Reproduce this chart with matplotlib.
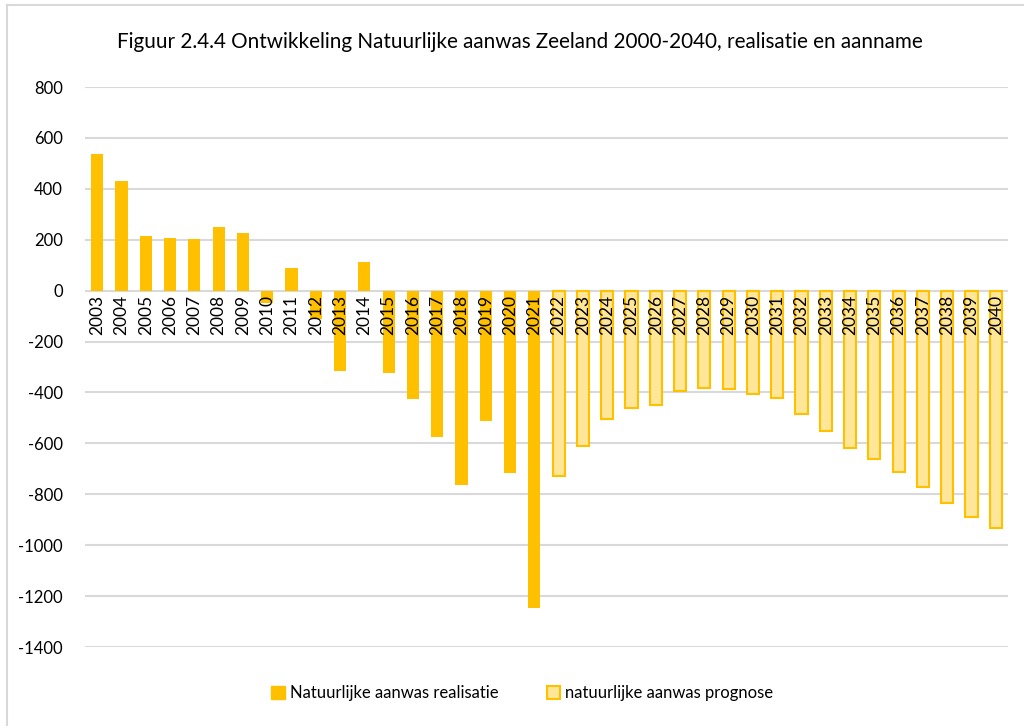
import numpy as np
import matplotlib.pyplot as plt
from matplotlib.lines import Line2D
from matplotlib.patches import Patch

# Jaren en waarden
jaren_real = list(range(2003, 2022))
realisatie = [537, 431, 216, 208, 204, 251, 227, -50, 90, -110, -314, 114,
              -324, -425, -575, -762, -512, -715, -1248]
jaren_prog = list(range(2022, 2041))
prognose = [-730, -610, -503, -460, -448, -395, -384, -385, -408, -420, -484,
            -553, -617, -663, -714, -770, -835, -888, -931]

plt.rcParams['font.family'] = ['Lato', 'DejaVu Sans']
plt.rcParams['axes.unicode_minus'] = False

fig = plt.figure(figsize=(10.24, 7.26), dpi=100)
ax = fig.add_axes([85 / 1024, 1 - 647 / 726, 923 / 1024, 560 / 726])

alle_jaren = jaren_real + jaren_prog
pos = {j: i for i, j in enumerate(alle_jaren)}

ax.bar([pos[j] for j in jaren_real], realisatie, width=0.5, color='#FFC000',
       zorder=2)
ax.bar([pos[j] for j in jaren_prog], prognose, width=0.5, color='#FFE699',
       edgecolor='#FFC000', linewidth=1.5, zorder=2)

ax.set_ylim(-1400, 800)
ax.set_xlim(-0.5, len(alle_jaren) - 0.5)
ax.set_yticks(np.arange(-1400, 801, 200))
ax.grid(axis='y', color='#D9D9D9', linewidth=1.5)
ax.set_axisbelow(True)
for s in ax.spines.values():
    s.set_visible(False)

# x-as labels op de nullijn, boven de staven
ax.spines['bottom'].set_position(('data', 0))
ax.set_xticks(range(len(alle_jaren)))
ax.set_xticklabels([str(j) for j in alle_jaren], rotation=90, fontsize=12.5)
ax.tick_params(axis='x', length=0, pad=3)
ax.tick_params(axis='y', length=0, pad=16, labelsize=12)
ax.xaxis.set_zorder(5)

fig.text(0.508, 1 - 42 / 726, 'Figuur 2.4.4 Ontwikkeling Natuurlijke aanwas Zeeland 2000-2040, realisatie en aanname',
         ha='center', va='center', fontsize=14.9)

handles = [Patch(facecolor='#FFC000', edgecolor='#FFC000'),
           Patch(facecolor='#FFE699', edgecolor='#FFC000', linewidth=1.5)]
fig.legend(handles, ['Natuurlijke aanwas realisatie', 'natuurlijke aanwas prognose'],
           loc='center', bbox_to_anchor=(0.51, 1 - 693 / 726), ncol=2,
           frameon=False, fontsize=12, handlelength=0.8, handleheight=0.8,
           handletextpad=0.3, columnspacing=2.9)

# rand van het grafiekgebied
fig.add_artist(Line2D([7 / 1024, 7 / 1024], [0, 1 - 5 / 726], color='#D9D9D9', lw=1.5))
fig.add_artist(Line2D([7 / 1024, 1], [1 - 5 / 726, 1 - 5 / 726], color='#D9D9D9', lw=1.5))

plt.savefig('out.png', dpi=100)
